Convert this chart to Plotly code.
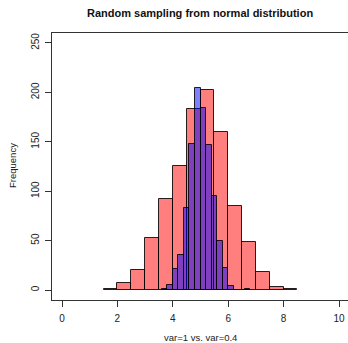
import plotly.graph_objects as go

# Histogram 1: var = 1, bins of width 0.5
red_bin_left = [1.5, 2.0, 2.5, 3.0, 3.5, 4.0, 4.5, 5.0, 5.5, 6.0, 6.5, 7.0, 7.5, 8.0]
red_bin_width = 0.5
red_counts = [1, 7, 20, 53, 92, 126, 183, 202, 160, 85, 49, 18, 3, 1]

# Histogram 2: var = 0.4, bins of width 0.2
blue_bin_left = [3.6, 3.8, 4.0, 4.2, 4.4, 4.6, 4.8, 5.0, 5.2, 5.4, 5.6, 5.8, 6.0, 6.2, 6.4, 6.6]
blue_bin_width = 0.2
blue_counts = [1, 5, 21, 35, 83, 148, 204, 184, 147, 95, 50, 22, 4, 0, 0, 1]

x_ticks = [0, 2, 4, 6, 8, 10]
y_ticks = [0, 50, 100, 150, 200, 250]

title_text = "Random sampling from normal distribution"
x_title = "var=1 vs. var=0.4"
y_title = "Frequency"

font_family = "Liberation Sans, Arial, sans-serif"

W, H = 348, 343
L, R, T, B = 52, 0, 33, 43

fig = go.Figure()
fig.add_trace(go.Bar(
    x=[l + red_bin_width / 2 for l in red_bin_left],
    y=red_counts,
    width=[red_bin_width] * len(red_counts),
    marker=dict(color="rgba(255,0,0,0.5)", line=dict(color="rgba(0,0,0,0.85)", width=1)),
    showlegend=False,
))
fig.add_trace(go.Bar(
    x=[l + blue_bin_width / 2 for l in blue_bin_left],
    y=blue_counts,
    width=[blue_bin_width] * len(blue_counts),
    marker=dict(color="rgba(0,0,255,0.5)", line=dict(color="rgba(0,0,0,0.85)", width=1)),
    showlegend=False,
))

fig.update_layout(
    width=W, height=H,
    margin=dict(l=L, r=R, t=T, b=B, autoexpand=False),
    barmode="overlay",
    bargap=0,
    plot_bgcolor="white",
    paper_bgcolor="white",
    font=dict(family=font_family, size=10, color="#222"),
)

def px_x(px):
    return (px - L) / (W - L - R)

def px_y(py):
    return (H - B - py) / (H - T - B)

fig.add_annotation(text="<b>" + title_text + "</b>", xref="paper", yref="paper",
                   x=px_x(200), y=px_y(13), xanchor="center", yanchor="middle",
                   showarrow=False, font=dict(size=11, color="#111"))
fig.add_annotation(text=x_title, xref="paper", yref="paper",
                   x=px_x(200), y=px_y(337), xanchor="center", yanchor="middle",
                   showarrow=False, font=dict(size=9.5, color="#222"))
fig.add_annotation(text=y_title, xref="paper", yref="paper",
                   x=px_x(12), y=px_y(166), xanchor="center", yanchor="middle",
                   textangle=-90, showarrow=False, font=dict(size=9.5, color="#222"))

fig.update_xaxes(
    range=[-0.361, 10.325],
    tickvals=x_ticks,
    ticks="outside", ticklen=6, tickcolor="#333", tickwidth=1,
    ticklabelstandoff=3,
    showline=True, linecolor="#333", linewidth=1, mirror=True,
    showgrid=False, zeroline=False, automargin=False,
)
fig.update_yaxes(
    range=[-10.1, 260.1],
    tickvals=y_ticks,
    tickangle=-90,
    ticks="outside", ticklen=6, tickcolor="#333", tickwidth=1,
    ticklabelstandoff=2,
    showline=True, linecolor="#333", linewidth=1, mirror=False,
    showgrid=False, zeroline=False, automargin=False,
)

fig.write_html("out.html",
               config={"displayModeBar": False},
               post_script="document.body.style.margin='0px';document.body.style.overflow='hidden';")
